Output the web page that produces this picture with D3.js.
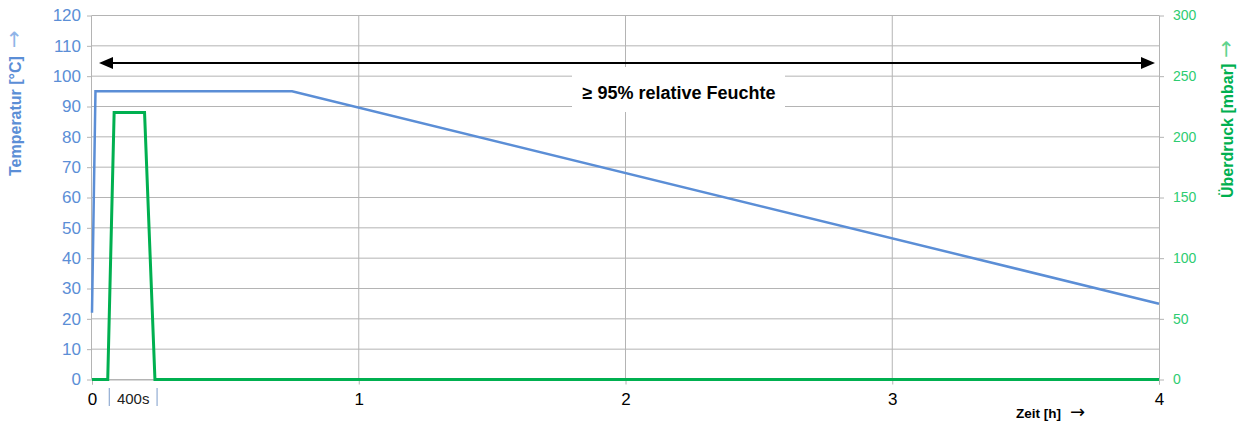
<!DOCTYPE html>
<html><head><meta charset="utf-8">
<script src="https://cdn.jsdelivr.net/npm/d3@7"></script>
<style>body{margin:0;background:#fff}svg{display:block;font-family:"Liberation Sans",Arial,sans-serif}</style>
</head><body><svg id="c" width="1240" height="424"></svg>
<script>
const xTicks = [0, 1, 2, 3, 4];
const tempTicks = [0,10,20,30,40,50,60,70,80,90,100,110,120];
const pressTicks = [0,50,100,150,200,250,300];
const tempTime = [0, 0.013, 0.75, 4];
const tempVals = [22, 95, 95, 25];
const pressTime = [0, 0.059, 0.083, 0.197, 0.236, 4];
const pressVals = [0, 0, 220, 220, 0, 0];
const markTimes = [0.065, 0.244];
const markLabel = "400s";
const bandLabel = "≥ 95% relative Feuchte";

const svg = d3.select("#c");
const L = 92, R = 1159, T = 15.5, B = 379.5;
const x = d3.scaleLinear().domain([0,4]).range([L,R]);
const yT = d3.scaleLinear().domain([0,120]).range([B,T]);
const yP = d3.scaleLinear().domain([0,300]).range([B,T]);
const grid = "#b4b4b4";
const blue = "#5b8ed6", green = "#00b050";

svg.append("g").selectAll("line").data(tempTicks).join("line")
  .attr("x1",L).attr("x2",R).attr("y1",d=>yT(d)).attr("y2",d=>yT(d))
  .attr("stroke",grid).attr("stroke-width",1);
svg.append("g").selectAll("line").data(xTicks.filter(d=>d>0&&d<4)).join("line")
  .attr("y1",T).attr("y2",B).attr("x1",d=>x(d)).attr("x2",d=>x(d))
  .attr("stroke",grid).attr("stroke-width",1);

const ax = svg.append("g").attr("transform",`translate(${L},0)`)
  .call(d3.axisLeft(yT).tickValues(tempTicks).tickSize(5).tickPadding(6));
ax.select(".domain").attr("stroke",grid).attr("d",`M-0.5,${T}V${B}`);
ax.selectAll(".tick line").attr("stroke",grid);
ax.selectAll("text").attr("fill",blue).attr("font-size",17).attr("font-family","Liberation Sans, Arial");

const ar = svg.append("g").attr("transform",`translate(${R},0)`)
  .call(d3.axisRight(yP).tickValues(pressTicks).tickSize(5).tickPadding(9));
ar.select(".domain").attr("stroke",grid).attr("d",`M0.5,${T}V${B}`);
ar.selectAll(".tick line").attr("stroke",grid);
ar.selectAll("text").attr("fill","#2ecc71").attr("font-size",14).attr("font-family","Liberation Sans, Arial");

const ab = svg.append("g").attr("transform",`translate(0,${B})`)
  .call(d3.axisBottom(x).tickValues(xTicks).tickFormat(d3.format("d")).tickSize(5).tickPadding(8));
ab.select(".domain").attr("stroke",grid);
ab.selectAll(".tick line").attr("stroke",grid);
ab.selectAll("text").attr("fill","#000").attr("font-size",17).attr("font-family","Liberation Sans, Arial");

const lineT = d3.line().x(d=>x(d[0])).y(d=>yT(d[1]));
const lineP = d3.line().x(d=>x(d[0])).y(d=>yP(d[1]));
svg.append("path").datum(d3.zip(tempTime,tempVals)).attr("d",lineT)
  .attr("fill","none").attr("stroke",blue).attr("stroke-width",2.5);
svg.append("path").datum(d3.zip(pressTime,pressVals)).attr("d",lineP)
  .attr("fill","none").attr("stroke",green).attr("stroke-width",3);

svg.append("g").selectAll("line").data(markTimes).join("line")
  .attr("x1",d=>x(d)).attr("x2",d=>x(d)).attr("y1",388).attr("y2",406)
  .attr("stroke","#9ab3d6").attr("stroke-width",1.3);
svg.append("text").attr("x",(x(markTimes[0])+x(markTimes[1]))/2).attr("y",404)
  .attr("text-anchor","middle").attr("font-size",15).attr("fill","#222").text(markLabel);

const ay = 63;
svg.append("line").attr("x1",x(0)+18).attr("x2",x(4)-18).attr("y1",ay).attr("y2",ay)
  .attr("stroke","#000").attr("stroke-width",2.2);
svg.append("path").attr("d",`M${x(0)+7},${ay}l14,-6v12z`).attr("fill","#000");
svg.append("path").attr("d",`M${x(4)-4},${ay}l-14,-6v12z`).attr("fill","#000");

svg.append("rect").attr("x",572).attr("y",67).attr("width",213).attr("height",45).attr("fill","#fff");
svg.append("text").attr("x",679).attr("y",99).attr("text-anchor","middle")
  .attr("font-size",18).attr("font-weight","bold").attr("fill","#000").text(bandLabel);

const arrowFont = "DejaVu Sans";
const lt = svg.append("text").attr("transform","translate(21,176) rotate(-90)")
  .attr("font-size",16).attr("font-weight","bold").attr("fill",blue);
lt.append("tspan").text("Temperatur [°C]");
lt.append("tspan").attr("font-weight","normal").attr("font-family",arrowFont).attr("font-size",21).attr("fill","#8fb4e8").attr("dx",8).text("→");

const rt = svg.append("text").attr("transform","translate(1233,198) rotate(-90)")
  .attr("font-size",16).attr("font-weight","bold").attr("fill",green);
rt.append("tspan").text("Überdruck [mbar]");
rt.append("tspan").attr("font-weight","normal").attr("font-family",arrowFont).attr("font-size",21).attr("fill","#5fd38d").attr("dx",6).text("→");

const xt = svg.append("text").attr("x",1016).attr("y",418).attr("font-size",13.5).attr("font-weight","bold").attr("fill","#000");
xt.append("tspan").text("Zeit [h]");
xt.append("tspan").attr("font-weight","normal").attr("font-family",arrowFont).attr("font-size",18).attr("dx",9).text("→");
</script></body></html>
